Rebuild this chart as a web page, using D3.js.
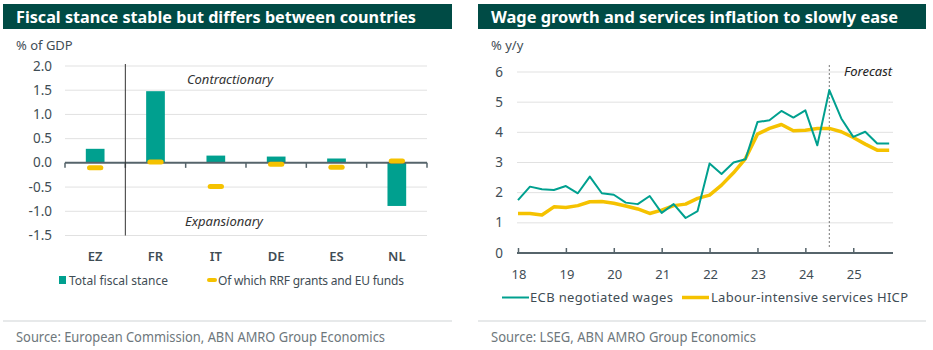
<!DOCTYPE html>
<html>
<head>
<meta charset="utf-8">
<script src="https://cdn.jsdelivr.net/npm/d3@7"></script>
<style>
  body { margin: 0; background: #fff; }
  svg { display: block; font-family: "Noto Sans", "Open Sans", sans-serif; }
</style>
</head>
<body>
<svg id="chart" width="933" height="350"></svg>
<script>
// left panel data
const countries = ["EZ", "FR", "IT", "DE", "ES", "NL"]
const totalStance = [0.29, 1.48, 0.15, 0.13, 0.09, -0.89]
const rrfFunds = [-0.10, 0.02, -0.49, -0.03, -0.09, 0.04]
const leftTicks = [2.0, 1.5, 1.0, 0.5, 0.0, -0.5, -1.0, -1.5]

// right panel data (quarterly, 2018Q1 - 2025Q4)
const yearTicks = [18, 19, 20, 21, 22, 23, 24, 25]
const ecbWages = [1.75, 2.20, 2.11, 2.09, 2.22, 1.98, 2.53, 1.98,
                  1.93, 1.67, 1.62, 1.89, 1.33, 1.62, 1.16, 1.39,
                  2.97, 2.62, 3.00, 3.11, 4.34, 4.40, 4.71, 4.49,
                  4.73, 3.57, 5.40, 4.46, 3.85, 4.02, 3.63, 3.63]
const servicesHicp = [1.31, 1.31, 1.26, 1.53, 1.51, 1.57, 1.70, 1.71,
                      1.65, 1.56, 1.46, 1.31, 1.42, 1.57, 1.62, 1.81,
                      1.92, 2.25, 2.66, 3.13, 3.94, 4.13, 4.26, 4.05,
                      4.07, 4.13, 4.13, 4.02, 3.83, 3.61, 3.41, 3.41]
const forecastStart = 24.5

const teal = "#00a08f", yellow = "#f5c200", barBg = "#004b45"
const textCol = "#3f4d55", gridCol = "#e1e1e1", axisCol = "#56646b"

const svg = d3.select("#chart")

// shared panel furniture
const panel = (x0, x1, title, unit, source) => {
    svg.append("rect").attr("x", x0).attr("y", 4).attr("width", x1 - x0).attr("height", 25).attr("fill", barBg)
    svg.append("text").attr("x", x0 + 13).attr("y", 23)
        .attr("fill", "#fff").attr("font-weight", 700).attr("font-size", 16)
        .attr("textLength", title.len).attr("lengthAdjust", "spacingAndGlyphs")
        .text(title.text)
    svg.append("text").attr("x", x0 + 13).attr("y", 50).attr("fill", textCol).attr("font-size", 13).text(unit)
    svg.append("line").attr("x1", x0).attr("x2", x1).attr("y1", 321).attr("y2", 321).attr("stroke", "#cfd3d5")
    svg.append("text").attr("x", x0 + 13).attr("y", 342).attr("fill", "#6e777c").attr("font-size", 13.5)
        .attr("textLength", source.len).attr("lengthAdjust", "spacingAndGlyphs")
        .text(source.text)
}

panel(3, 452, { text: "Fiscal stance stable but differs between countries", len: 400 }, "% of GDP",
    { text: "Source: European Commission, ABN AMRO Group Economics", len: 369 })
panel(478, 926, { text: "Wage growth and services inflation to slowly ease", len: 407 }, "% y/y",
    { text: "Source: LSEG, ABN AMRO Group Economics", len: 265 })

// ******************* LEFT: fiscal stance *********************
const x = d3.scaleBand().domain(countries).range([65, 427])
const y = d3.scaleLinear().domain([-1.5, 2]).range([235.5, 66])

const left = svg.append("g")
left.selectAll(".grid").data(leftTicks.filter(d => d != 0)).join("line")
    .attr("x1", 65).attr("x2", 427)
    .attr("y1", d => y(d)).attr("y2", d => y(d))
    .attr("stroke", gridCol)
left.selectAll(".ylab").data(leftTicks).join("text")
    .attr("x", 52).attr("y", d => y(d) + 4.5)
    .attr("text-anchor", "end").attr("fill", textCol).attr("font-size", 13.5)
    .text(d => d3.format(".1f")(d).replace("−", "-"))

const barW = x.bandwidth() * 0.31
left.selectAll(".bar").data(countries).join("rect")
    .attr("x", d => x(d) + x.bandwidth() / 2 - barW / 2)
    .attr("width", barW)
    .attr("y", (d, i) => y(Math.max(0, totalStance[i])))
    .attr("height", (d, i) => Math.abs(y(totalStance[i]) - y(0)))
    .attr("fill", teal)

// zero axis with ticks below
left.append("line").attr("x1", 65).attr("x2", 427).attr("y1", y(0)).attr("y2", y(0))
    .attr("stroke", axisCol).attr("stroke-width", 2)
left.selectAll(".tick5").data(countries.concat(["end"])).join("line")
    .attr("x1", (d, i) => 65 + i * x.step()).attr("x2", (d, i) => 65 + i * x.step())
    .attr("y1", y(0)).attr("y2", y(0) + 5)
    .attr("stroke", axisCol).attr("stroke-width", 1.5)

const markW = x.bandwidth() * 0.27
left.selectAll(".rrf").data(countries).join("rect")
    .attr("x", d => x(d) + x.bandwidth() / 2 - markW / 2)
    .attr("width", markW)
    .attr("y", (d, i) => y(rrfFunds[i]) - 2.5)
    .attr("height", 5).attr("rx", 2.5)
    .attr("fill", yellow)

// divider between EZ and countries
left.append("line").attr("x1", x("FR")).attr("x2", x("FR"))
    .attr("y1", y(2) - 2).attr("y2", y(-1.5))
    .attr("stroke", "#333").attr("stroke-width", 1)

left.append("text").attr("x", 230).attr("y", 84).attr("text-anchor", "middle")
    .attr("font-style", "italic").attr("fill", "#333").attr("font-size", 13).text("Contractionary")
left.append("text").attr("x", 224).attr("y", 226).attr("text-anchor", "middle")
    .attr("font-style", "italic").attr("fill", "#333").attr("font-size", 13).text("Expansionary")

left.selectAll(".xlab").data(countries).join("text")
    .attr("x", d => x(d) + x.bandwidth() / 2).attr("y", 261)
    .attr("text-anchor", "middle").attr("fill", textCol)
    .attr("font-size", 13).attr("font-weight", 600)
    .text(d => d)

// legend
left.append("rect").attr("x", 59).attr("y", 276).attr("width", 7).attr("height", 8).attr("fill", teal)
left.append("text").attr("x", 69).attr("y", 285).attr("fill", textCol).attr("font-size", 12)
    .attr("textLength", 99).text("Total fiscal stance")
left.append("rect").attr("x", 207).attr("y", 278).attr("width", 10).attr("height", 4).attr("rx", 2).attr("fill", yellow)
left.append("text").attr("x", 218).attr("y", 285).attr("fill", textCol).attr("font-size", 12)
    .attr("textLength", 186).text("Of which RRF grants and EU funds")

// ******************* RIGHT: wages vs services *********************
const xr = d3.scaleLinear().domain([18, 25.83]).range([518, 893])
const yr = d3.scaleLinear().domain([0, 6]).range([253, 72])
const quarters = ecbWages.map((d, i) => 18 + i / 4)

const right = svg.append("g")
right.selectAll(".grid").data(d3.range(1, 7)).join("line")
    .attr("x1", 517).attr("x2", 893)
    .attr("y1", d => yr(d)).attr("y2", d => yr(d))
    .attr("stroke", gridCol)
right.selectAll(".ylab").data(d3.range(0, 7)).join("text")
    .attr("x", 503).attr("y", d => yr(d) + 4.5)
    .attr("text-anchor", "end").attr("fill", textCol).attr("font-size", 13.5)
    .text(d => d)

right.append("line").attr("x1", xr(forecastStart)).attr("x2", xr(forecastStart))
    .attr("y1", 65).attr("y2", 247)
    .attr("stroke", "#777").attr("stroke-width", 1).attr("stroke-dasharray", "2,2")
right.append("text").attr("x", 844).attr("y", 76).attr("font-style", "italic")
    .attr("fill", "#222").attr("font-size", 13).text("Forecast")

// x axis with ticks pointing up
right.append("g")
    .attr("transform", `translate(0,${yr(0)})`)
    .call(d3.axisTop(xr).tickValues(yearTicks).tickSize(5).tickFormat(""))
    .call(g => g.select(".domain").remove())
    .call(g => g.selectAll(".tick line").attr("stroke", axisCol).attr("stroke-width", 1.5))
right.append("line").attr("x1", 517).attr("x2", 893).attr("y1", yr(0)).attr("y2", yr(0))
    .attr("stroke", axisCol).attr("stroke-width", 2)
right.selectAll(".xlab").data(yearTicks).join("text")
    .attr("x", d => xr(d) + 1).attr("y", 279)
    .attr("text-anchor", "middle").attr("fill", textCol).attr("font-size", 13)
    .text(d => d)

const line = d3.line().x((d, i) => xr(quarters[i])).y(d => yr(d))
right.append("path").datum(servicesHicp).attr("d", line)
    .attr("fill", "none").attr("stroke", yellow).attr("stroke-width", 3.5).attr("stroke-linejoin", "round")
right.append("path").datum(ecbWages).attr("d", line)
    .attr("fill", "none").attr("stroke", teal).attr("stroke-width", 2).attr("stroke-linejoin", "round")

// legend
right.append("line").attr("x1", 502).attr("x2", 529).attr("y1", 297.5).attr("y2", 297.5)
    .attr("stroke", teal).attr("stroke-width", 2)
right.append("text").attr("x", 530).attr("y", 302).attr("fill", textCol).attr("font-size", 13)
    .attr("textLength", 143).text("ECB negotiated wages")
right.append("line").attr("x1", 682).attr("x2", 709).attr("y1", 297.5).attr("y2", 297.5)
    .attr("stroke", yellow).attr("stroke-width", 3.5)
right.append("text").attr("x", 711).attr("y", 302).attr("fill", textCol).attr("font-size", 13)
    .attr("textLength", 197).text("Labour-intensive services HICP")
</script>
</body>
</html>
